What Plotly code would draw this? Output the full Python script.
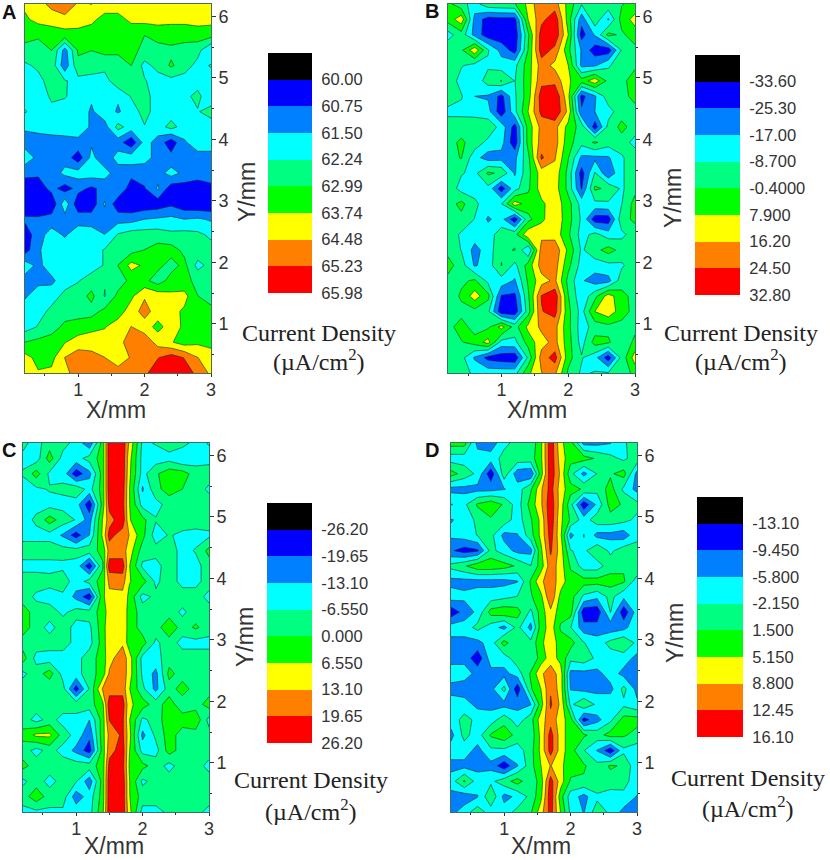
import plotly.graph_objects as go

W, H = 830, 860

Y_MM = [6.2, 5.95, 5.7, 5.45, 5.2, 4.95, 4.7, 4.45, 4.2, 3.95, 3.7, 3.45, 3.2,
        2.95, 2.7, 2.45, 2.2, 1.95, 1.7, 1.45, 1.2, 0.95, 0.7, 0.45, 0.2]
X_MM = [0.2, 0.4, 0.6, 0.8, 1.0, 1.2, 1.4, 1.6, 1.8, 2.0, 2.2, 2.4, 2.6, 2.8, 3.0]
# the narrow stripes in C and D need extra columns round the peak
X_MM_C = [0.2, 0.4, 0.6, 0.8, 1.0, 1.2, 1.4, 1.5, 1.7, 1.8, 2.0, 2.2, 2.4, 2.6, 2.8, 3.0]
X_MM_D = [0.2, 0.4, 0.6, 0.8, 1.0, 1.2, 1.4, 1.55, 1.7, 1.85, 2.0, 2.2, 2.4, 2.6, 2.8, 3.0]

# rows run from the top of each map (y = 6.2) down to y = 0.2
Z_A = [
    [63.9, 64.2, 64.7, 64.9, 64.4, 64.5, 64.1, 64.1, 64.1, 64.1, 64.1, 64.1, 64.1, 64.1, 64.1],
    [63.6, 64.0, 64.1, 64.3, 64.2, 63.9, 63.5, 63.5, 63.9, 64.0, 64.0, 63.9, 63.9, 64.0, 64.0],
    [63.2, 63.1, 63.3, 63.4, 63.4, 63.4, 63.4, 63.4, 63.3, 63.0, 63.3, 63.4, 63.4, 63.4, 63.3],
    [62.8, 62.7, 63.0, 61.2, 63.1, 63.0, 63.2, 63.2, 63.2, 62.8, 62.7, 62.8, 62.6, 62.5, 61.5],
    [62.1, 62.4, 62.7, 61.0, 62.8, 62.7, 62.5, 62.5, 63.0, 62.0, 62.5, 63.1, 62.6, 62.0, 62.3],
    [61.9, 62.0, 62.6, 62.3, 62.0, 61.9, 61.9, 62.8, 62.5, 62.3, 61.9, 62.0, 61.9, 62.0, 61.9],
    [61.9, 61.7, 62.4, 62.3, 61.9, 61.6, 62.0, 61.6, 62.3, 62.5, 61.9, 61.9, 62.1, 62.4, 61.8],
    [62.3, 61.9, 62.0, 61.9, 61.9, 61.4, 61.9, 61.4, 61.9, 62.5, 61.9, 61.9, 61.9, 62.2, 62.5],
    [61.6, 61.7, 61.7, 61.9, 61.9, 61.4, 61.2, 62.5, 61.9, 62.2, 61.9, 62.5, 61.9, 61.9, 61.9],
    [61.2, 61.2, 61.3, 61.2, 61.3, 61.4, 61.0, 61.1, 60.2, 61.8, 61.2, 60.3, 61.4, 61.9, 61.9],
    [61.9, 61.3, 61.2, 61.2, 60.3, 61.7, 61.0, 61.8, 61.9, 61.8, 61.2, 61.0, 61.2, 61.2, 61.2],
    [61.0, 60.9, 61.1, 61.7, 61.8, 61.9, 61.8, 61.1, 61.0, 61.0, 61.2, 61.8, 61.3, 61.2, 61.4],
    [60.2, 60.3, 61.0, 60.4, 61.0, 60.6, 61.0, 61.5, 60.3, 60.7, 61.6, 60.3, 60.4, 60.2, 60.4],
    [60.1, 60.0, 60.1, 62.0, 60.2, 60.2, 61.6, 60.2, 60.1, 60.2, 60.3, 60.6, 60.2, 60.1, 60.1],
    [60.9, 60.9, 61.1, 61.2, 61.2, 61.2, 61.1, 61.2, 61.2, 61.5, 61.6, 61.7, 61.5, 61.6, 61.4],
    [60.3, 61.2, 61.8, 61.4, 61.9, 61.8, 61.5, 62.3, 62.6, 62.6, 62.6, 62.4, 62.5, 62.4, 62.1],
    [60.4, 61.4, 61.9, 61.9, 61.9, 61.9, 62.3, 62.6, 62.7, 63.0, 63.3, 63.3, 62.8, 62.7, 62.5],
    [61.9, 61.3, 61.9, 62.0, 61.9, 61.9, 62.3, 63.0, 64.0, 63.6, 63.2, 62.7, 63.2, 62.0, 62.5],
    [61.2, 61.3, 61.3, 62.0, 62.2, 62.6, 62.3, 62.6, 63.2, 63.2, 62.6, 63.3, 63.2, 62.8, 62.7],
    [61.4, 61.9, 62.0, 62.4, 62.6, 63.2, 62.2, 63.2, 63.6, 64.4, 64.2, 63.9, 64.0, 63.0, 62.7],
    [61.9, 62.0, 62.4, 62.6, 62.7, 62.7, 63.2, 63.4, 64.1, 64.8, 64.1, 64.0, 63.6, 63.1, 63.2],
    [61.9, 62.3, 62.6, 63.2, 63.3, 63.5, 63.7, 64.1, 64.5, 64.1, 63.5, 64.1, 63.6, 63.3, 63.2],
    [63.0, 63.2, 63.4, 63.7, 64.1, 64.2, 64.0, 64.2, 64.9, 65.0, 64.2, 63.8, 63.4, 63.6, 63.5],
    [64.0, 63.5, 63.5, 64.5, 64.9, 64.7, 64.5, 63.8, 64.6, 65.0, 65.2, 65.6, 65.2, 64.5, 64.1],
    [64.1, 63.8, 63.9, 64.3, 64.8, 65.0, 65.0, 65.0, 65.0, 65.1, 65.6, 65.7, 65.5, 65.1, 64.3],
]
Z_B = [
    [2, -6, -12, -3, -2, -1, 10, 24, 20, 5, -8, -4, -3, -1, 2],
    [3, 13, -20, -29, -28, -28, 8, 22, 30, 4, -22, -3, -18, 3, 11],
    [-12, -4, -20, -30, -31, -31, -2, 29, 31, 8, -29, -16, 2, -2, 4],
    [-3, -2, 14, -8, -20, -29, 0, 29, 22, 2, -18, -30, -30, -8, -3],
    [-4, -8, -12, -10, -13, -11, 4, 20, 14, 8, -19, -18, -10, -3, -2],
    [-3, -12, -14, -5, 0, -9, 4, 22, 22, 9, 3, 13, -3, -3, 4],
    [-4, -8, -17, -18, -28, -10, 4, 29, 32, 10, -28, -18, -4, -3, 2],
    [-11, -11, -12, -14, -31, -11, 8, 27, 32, 14, -24, -17, -12, -4, -3],
    [-4, -4, -3, -3, -12, -29, 3, 19, 19, 5, -4, -30, -6, 2, -4],
    [-3, 1, -4, -11, -14, -31, 3, 20, 20, 3, -6, 1, -5, -4, -12],
    [-3, 0, -14, -21, -20, -19, -3, 26, 17, 0, -19, -19, -18, -10, -3],
    [-3, -8, -11, 1, -2, -18, -3, 12, 13, -3, -29, -8, -24, -10, -3],
    [-3, -12, -12, -11, -30, -12, -2, 12, 12, -3, -26, 1, -2, -10, -3],
    [-4, 2, -7, -13, -9, 12, 4, 6, 13, 3, -12, -11, -10, -9, 3],
    [-3, -3, -9, -18, -14, -31, -3, 6, 14, 3, -10, -30, -30, -3, 1],
    [-4, -10, -13, -13, -4, -3, 14, 14, 13, 1, -12, -6, -13, -11, -4],
    [-3, -9, -20, -13, -2, 0, -17, 20, 22, 6, -10, -3, 3, -3, -3],
    [3, -5, -18, -13, 0, -11, 3, 20, 20, 2, -12, -13, -11, -10, -4],
    [-3, -2, 1, -11, -12, -18, 1, 13, 18, -3, -16, -21, -20, -4, -3],
    [-6, 1, 12, 2, -26, -27, -2, 25, 30, 0, -15, -3, 12, 2, -3],
    [-3, -3, -3, -7, -31, -31, -4, 24, 28, 2, -12, 8, 14, 3, -3],
    [-3, 3, -4, -2, 11, -4, 10, 18, 19, 2, -13, -5, -3, -3, -3],
    [-3, -1, 3, 11, -12, -11, 3, 13, 19, 3, -12, 3, 1, -8, 2],
    [-3, -6, -18, -28, -30, -31, -7, 20, 28, 3, -8, -14, -30, -6, 12],
    [-3, -2, -12, -12, -12, -12, 6, 16, 18, -2, -10, -8, -8, -7, 3],
]
Z_C = [
    [-5, -9, -3, -4, -9, -18, 3, 24, 24, 12, -8, -6, -3, -4, -9, -6],
    [-8, -10, 3, -9, -9, -4, 3, 24, 24, 9, -9, -10, -9, -13, -10, -9],
    [-6, 3, -8, -9, -24, -15, 3, 24, 24, 8, -9, -1, 4, 3, -3, -3],
    [-9, -8, -6, -5, -2, -9, 3, 24, 23, 7, -14, -2, 3, 0, -3, -8],
    [-9, -9, -9, -9, -10, -24, 3, 22, 22, 7, -9, -9, -4, -3, -3, -3],
    [-10, -5, 3, -3, -7, -16, 7, 17, 24, 7, 2, -6, -4, -3, -3, -3],
    [-9, -9, -9, -14, -23, -13, 8, 22, 16, 13, 2, -10, -6, -8, -9, -8],
    [-3, -3, -3, -4, -4, -3, 2, 16, 16, 10, -3, -4, -3, -9, -6, 2],
    [-9, -9, -9, -8, -9, -24, -1, 23, 23, 7, -8, -9, -3, -9, -9, -3],
    [-3, -3, -4, -3, -10, -4, 3, 15, 16, 7, 3, -8, -3, -9, -9, -3],
    [-3, -8, -10, -8, -15, -24, 5, 11, 11, 5, -9, -5, 0, -3, -3, -9],
    [3, -3, -3, -8, -4, -4, 3, 10, 11, 4, -3, -3, -3, -8, -3, -3],
    [3, -3, -9, -3, -9, -8, 4, 11, 11, 4, -3, -3, 5, -3, 1, -3],
    [-3, -3, -3, -3, -9, -9, 3, 12, 12, 3, 3, -8, -3, -9, -9, -9],
    [3, -9, -10, -10, -9, -3, 3, 11, 17, 10, -9, -9, -3, -3, -3, -3],
    [-8, -3, 3, -9, -9, -3, 3, 14, 17, 10, -8, -15, 2, -3, -3, -3],
    [-3, -3, -5, -4, -23, -6, 14, 17, 17, 7, -5, -15, -3, 3, -3, -3],
    [-3, -3, -3, -3, -3, -3, 5, 23, 23, 8, 3, -3, 3, -4, -3, 3],
    [-3, -9, -4, -9, -9, -13, 3, 20, 21, 7, -8, -4, 5, 3, 5, -9],
    [2, 8, 8, -3, -9, -18, 4, 15, 21, 9, -15, -5, 3, -3, -3, -4],
    [-3, -9, -4, -9, -15, -23, 3, 17, 23, 7, -9, -9, 3, -3, -3, -3],
    [2, -3, -3, -3, -3, -3, 3, 22, 22, 6, 2, -3, -9, -3, -3, -9],
    [-8, -3, -9, -4, -6, -17, 3, 24, 24, 7, -8, -4, -3, -3, -6, -3],
    [-3, 4, -3, -3, -17, -10, 3, 24, 24, 7, -3, -3, -3, -3, -3, -3],
    [-9, -8, -8, -8, -9, -9, 5, 24, 24, 9, -9, -9, -5, -4, -4, -9],
]
Z_D = [
    [3, 3, -7, -8, -3, -1, -1, 4, 15, 6, 3, -7, -7, -6, -3, 1],
    [-4, -4, -4, -4, -1, 0, 0, 4, 15, 7, 3, 3, 1, -1, -3, 0],
    [3, 0, -3, -12, 0, -8, -9, 3, 15, 8, -1, -7, -2, 1, 3, -7],
    [-7, -7, -7, -7, -6, -4, 1, 8, 14, 7, 3, 1, -1, 3, -3, -7],
    [-2, -3, 2, 4, 1, -4, 3, 8, 15, 7, -1, -12, -5, 3, 1, -1],
    [-6, -5, -1, 1, 0, -4, 1, 6, 15, 6, 1, -4, 0, 0, -1, -3],
    [-5, -4, -2, -1, -7, -6, 0, 6, 14, 6, -7, -2, -7, -7, -8, -3],
    [-9, -11, -10, -1, -4, -7, -7, 4, 13, 7, -2, -3, 1, -3, 0, -1],
    [-1, 1, 4, 4, 3, 1, -2, 3, 11, 7, 1, -4, -4, 0, 1, 1],
    [-7, -7, -7, -7, -7, -6, 2, 8, 11, 7, 3, 3, 3, 3, 2, -4],
    [-4, -5, -4, -4, -3, -2, 1, 4, 12, 4, 3, -3, -5, -1, -5, -3],
    [-12, -8, -5, 3, 4, 3, -3, 3, 8, 3, 3, -12, -12, -2, -12, -4],
    [-4, -4, -1, -4, -7, -1, -7, 3, 7, 1, -2, -8, -8, -8, -7, -3],
    [-7, -7, -7, -4, 3, -2, -1, 4, 8, 3, 3, -2, -4, -1, 1, -3],
    [-7, -7, -12, -4, -4, 0, -2, 3, 7, 4, -1, 0, -3, -4, -4, -7],
    [-4, -4, -7, -7, -7, -4, 2, 8, 11, 7, -7, -7, -7, -4, -7, -7],
    [-7, -8, -6, -7, -1, -12, 1, 5, 12, 7, -6, -7, -7, -7, -1, -7],
    [-4, -4, -7, -7, -7, -7, -6, 3, 13, 8, -3, 1, -3, -3, -3, -5],
    [-4, -1, -3, -4, 0, -4, 0, 7, 11, 7, 3, -11, -7, -3, 3, 3],
    [-7, -1, -4, 2, 4, 0, -1, 6, 14, 7, 3, 2, 0, 3, 2, 0],
    [-4, -4, -7, -3, -3, -4, 0, 6, 14, 7, 3, -2, -6, -12, -3, -4],
    [-7, -7, -7, -7, -12, -6, 0, 5, 9, 6, 3, 2, -1, 2, 1, -5],
    [-4, 2, -4, -3, 0, 3, -1, 3, 14, 7, 1, 1, 1, 0, -1, -4],
    [-7, -8, -6, 1, -7, -5, -1, 4, 15, 3, -4, -7, -3, -4, -3, -6],
    [-7, -4, 0, -4, -4, -1, 1, 7, 14, 5, -3, -6, 0, -3, -7, -7],
]

BAR_A = ["60.00", "60.75", "61.50", "62.24", "62.99", "63.74", "64.48", "65.23", "65.98"]
BAR_B = ["-33.60", "-25.30", "-17.00", "-8.700", "-0.4000", "7.900", "16.20", "24.50", "32.80"]
BAR_C = ["-26.20", "-19.65", "-13.10", "-6.550", "0.000", "6.550", "13.10", "19.65", "26.20"]
BAR_D = ["-13.10", "-9.450", "-5.800", "-2.150", "1.500", "5.150", "8.800", "12.45", "16.10"]

COLORS = ["#000000", "#0000ff", "#0080ff", "#00ffff", "#00ff80",
          "#00ff00", "#ffff00", "#ff8000", "#ff0000"]

SANS = "Liberation Sans, Arial, sans-serif"
SERIF = "Liberation Serif, Times New Roman, serif"
INK = "#333333"

panels = [
    dict(name="A", x=X_MM, z=Z_A, bar=BAR_A, box=(25, 211, 4, 373), cbar=(268, 312, 53, 293),
         letter=(9, 12), ylab=(247, 192), xlab=(116, 410), cd=(319, 333, 360)),
    dict(name="B", x=X_MM, z=Z_B, bar=BAR_B, box=(448, 635, 4, 373), cbar=(695, 740, 55, 295),
         letter=(432, 11), ylab=(673, 198), xlab=(537, 410), cd=(741, 333, 360)),
    dict(name="C", x=X_MM_C, z=Z_C, bar=BAR_C, box=(23, 209, 443, 812), cbar=(267, 312, 503, 743),
         letter=(9, 450), ylab=(245, 637), xlab=(114, 846), cd=(311, 780, 810)),
    dict(name="D", x=X_MM_D, z=Z_D, bar=BAR_D, box=(451, 637, 443, 812), cbar=(697, 743, 497, 737),
         letter=(432, 450), ylab=(675, 633), xlab=(541, 846), cd=(748, 778, 807)),
]


def fx(px):
    return px / W


def fy(py):
    return 1 - py / H


def step_scale(colors):
    n = len(colors)
    out = []
    for i, c in enumerate(colors):
        out += [[i / n, c], [(i + 1) / n, c]]
    return out


fig = go.Figure()
notes = []
for i, p in enumerate(panels):
    l, r, t, b = p["box"]
    low = float(p["bar"][0])
    high = float(p["bar"][-1])
    step = (high - low) / 8
    # black sits under the first level, red is the last band
    scale_colors = COLORS + [COLORS[-1]]
    ax_x, ax_y = 2 * i + 1, 2 * i + 2
    fig.add_trace(go.Contour(
        x=p["x"], y=Y_MM[::-1], z=p["z"][::-1],
        xaxis=f"x{ax_x}", yaxis=f"y{ax_y}",
        autocontour=False,
        contours=dict(start=low, end=high, size=step, coloring="fill"),
        line=dict(color="rgba(10,40,30,0.75)", width=0.8, smoothing=0),
        colorscale=step_scale(scale_colors),
        zauto=False, zmin=low - step, zmax=high + step,
        showscale=False,
    ))
    fig.update_layout({
        f"xaxis{ax_x}": dict(
            domain=[fx(l), fx(r)], range=[0.2, 3], anchor=f"y{ax_y}",
            tickvals=[1, 2, 3], ticks="outside", ticklen=3, tickcolor=INK, ticklabelstandoff=-3,
            minor=dict(tickvals=[0.5, 1.5, 2.5], ticks="outside", ticklen=2, tickcolor=INK),
            showgrid=False, zeroline=False, showline=True, mirror=True,
            linecolor="#3d6f66", linewidth=1,
            tickfont=dict(family=SANS, size=18, color=INK),
        ),
        f"yaxis{ax_y}": dict(
            domain=[fy(b), fy(t)], range=[0.2, 6.2], anchor=f"x{ax_x}", side="right",
            tickvals=[1, 2, 3, 4, 5, 6], ticks="outside", ticklen=4, tickcolor=INK, ticklabelstandoff=-1,
            minor=dict(tickvals=[0.5, 1.5, 2.5, 3.5, 4.5, 5.5], ticks="outside", ticklen=2, tickcolor=INK),
            showgrid=False, zeroline=False, showline=True, mirror=True,
            linecolor="#3d6f66", linewidth=1,
            tickfont=dict(family=SANS, size=18, color=INK),
        ),
    })

    # legend block: its own little axes so the labels stay real ticks
    c_l, c_r, c_t, c_b = p["cbar"]
    bar_x, bar_y = 2 * i + 9, 2 * i + 10
    fig.add_trace(go.Heatmap(
        z=[[k] for k in range(len(COLORS))], y=list(range(len(COLORS))), x=[0],
        xaxis=f"x{bar_x}", yaxis=f"y{bar_y}",
        colorscale=step_scale(COLORS), zmin=-0.5, zmax=8.5, showscale=False,
        hoverinfo="skip",
    ))
    fig.update_layout({
        f"xaxis{bar_x}": dict(domain=[fx(c_l), fx(c_r)], anchor=f"y{bar_y}", visible=False),
        f"yaxis{bar_y}": dict(
            domain=[fy(c_b), fy(c_t)], range=[8.5, -0.5], anchor=f"x{bar_x}", side="right",
            tickvals=[k + 0.5 for k in range(9)], ticktext=p["bar"],
            ticks="outside", ticklen=5, tickcolor="rgba(0,0,0,0)",
            showgrid=False, zeroline=False, showline=False,
            tickfont=dict(family=SANS, size=16.5, color=INK),
        ),
    })

    notes.append(dict(text=f"<b>{p['name']}</b>", x=fx(p["letter"][0]), y=fy(p["letter"][1]),
                      font=dict(family=SANS, size=20, color="#111111")))
    notes.append(dict(text="X/mm", x=fx(p["xlab"][0]), y=fy(p["xlab"][1]),
                      font=dict(family=SANS, size=23, color=INK)))
    notes.append(dict(text="Y/mm", x=fx(p["ylab"][0]), y=fy(p["ylab"][1]), textangle=-90,
                      font=dict(family=SANS, size=23, color=INK)))
    notes.append(dict(text="Current Density", x=fx(p["cd"][0]), y=fy(p["cd"][1]),
                      font=dict(family=SERIF, size=24, color="#222222")))
    notes.append(dict(text="(µA/cm<sup>2</sup>)", x=fx(p["cd"][0]), y=fy(p["cd"][2]),
                      font=dict(family=SERIF, size=24, color="#222222")))

for n in notes:
    n.update(xref="paper", yref="paper", showarrow=False, xanchor="center", yanchor="middle",
             borderpad=0, borderwidth=0)

fig.update_layout(
    width=W, height=H, showlegend=False,
    paper_bgcolor="white", plot_bgcolor="white",
    margin=dict(l=0, r=0, t=0, b=0, autoexpand=False),
    annotations=notes,
)

fig.write_html("out.html", config=dict(displayModeBar=False),
               post_script="document.body.style.margin='0';document.documentElement.style.overflow='hidden';")
